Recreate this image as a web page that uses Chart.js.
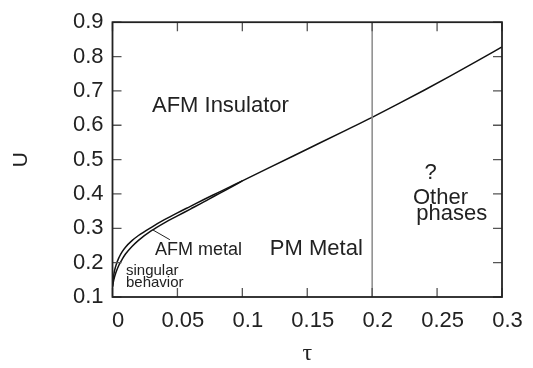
<!DOCTYPE html>
<html>
<head>
<meta charset="utf-8">
<script src="https://cdn.jsdelivr.net/npm/chart.js@4.4.1/dist/chart.umd.min.js"></script>
<style>
  html, body { margin: 0; padding: 0; background: #fff; }
  #wrap { width: 533px; height: 368px; }
</style>
</head>
<body>
<div id="wrap"><canvas id="c" width="533" height="368"></canvas></div>
<script>
// ---- data ----
const upperTau = [0, 0.001, 0.0025, 0.005, 0.0075, 0.01, 0.015, 0.02, 0.03, 0.04, 0.05, 0.06, 0.07, 0.08, 0.09, 0.1,
                  0.12, 0.14, 0.16, 0.18, 0.2, 0.22, 0.24, 0.26, 0.28, 0.3];
const upperU   = [0.13, 0.165, 0.19, 0.215, 0.232, 0.245, 0.264, 0.279, 0.303, 0.325, 0.345, 0.364, 0.383, 0.4015, 0.42, 0.438,
                  0.475, 0.512, 0.549, 0.586, 0.623, 0.662, 0.702, 0.743, 0.785, 0.828];
const lowerTau = [0, 0.001, 0.0025, 0.005, 0.0075, 0.01, 0.015, 0.02, 0.03, 0.04, 0.05, 0.06, 0.07, 0.08, 0.09, 0.1];
const lowerU   = [0.13, 0.15, 0.17, 0.193, 0.21, 0.225, 0.247, 0.265, 0.293, 0.316, 0.336, 0.356, 0.376, 0.397, 0.417, 0.438];
const boundaryTau = [0.2, 0.2];
const boundaryU   = [0.1, 0.9];

const xTickValues = [0, 0.05, 0.1, 0.15, 0.2, 0.25, 0.3];
const xTickLabels = ['0', '0.05', '0.1', '0.15', '0.2', '0.25', '0.3'];
const yTickValues = [0.1, 0.2, 0.3, 0.4, 0.5, 0.6, 0.7, 0.8, 0.9];
const yTickLabels = ['0.1', '0.2', '0.3', '0.4', '0.5', '0.6', '0.7', '0.8', '0.9'];

// region labels: [text, tau, U, fontSize]
const regionLabels = [
  ['AFM Insulator', 0.0304, 0.638, 22],
  ['AFM metal', 0.0327, 0.2235, 18],
  ['singular', 0.0104, 0.1636, 15],
  ['behavior', 0.0104, 0.1283, 15],
  ['PM Metal', 0.1212, 0.2216, 22],
  ['?', 0.2404, 0.4449, 22],
  ['Other', 0.2314, 0.3694, 22],
  ['phases', 0.234, 0.3233, 22]
];
const pointerTau = [0.0312, 0.0442];
const pointerU = [0.295, 0.2668];

const toPts = (xs, ys) => xs.map((x, i) => ({x: x, y: ys[i]}));

Chart.defaults.font.family = "'Liberation Sans', Arial, Helvetica, sans-serif";
Chart.defaults.color = '#222';

const framePlugin = {
  id: 'frame',
  afterDatasetsDraw(chart) {
    const ctx = chart.ctx;
    const a = chart.chartArea;
    const xs = chart.scales.x, ys = chart.scales.y;
    const L = 9;
    ctx.save();
    // inward ticks
    ctx.strokeStyle = '#555';
    ctx.lineWidth = 1.3;
    ctx.beginPath();
    xTickValues.forEach(v => {
      const px = xs.getPixelForValue(v);
      ctx.moveTo(px, a.bottom); ctx.lineTo(px, a.bottom - L);
      ctx.moveTo(px, a.top); ctx.lineTo(px, a.top + L);
    });
    yTickValues.forEach(v => {
      const py = ys.getPixelForValue(v);
      ctx.moveTo(a.left, py); ctx.lineTo(a.left + L, py);
      ctx.moveTo(a.right, py); ctx.lineTo(a.right - L, py);
    });
    ctx.stroke();
    // frame
    ctx.strokeStyle = '#222';
    ctx.lineWidth = 1.8;
    ctx.strokeRect(a.left, a.top, a.right - a.left, a.bottom - a.top);
    // pointer line
    ctx.strokeStyle = '#222';
    ctx.lineWidth = 1;
    ctx.beginPath();
    ctx.moveTo(xs.getPixelForValue(pointerTau[0]), ys.getPixelForValue(pointerU[0]));
    ctx.lineTo(xs.getPixelForValue(pointerTau[1]), ys.getPixelForValue(pointerU[1]));
    ctx.stroke();
    // labels
    ctx.fillStyle = '#222';
    ctx.textAlign = 'left';
    ctx.textBaseline = 'alphabetic';
    regionLabels.forEach(([t, x, y, s]) => {
      ctx.font = s + "px 'Liberation Sans', Arial, sans-serif";
      ctx.fillText(t, xs.getPixelForValue(x), ys.getPixelForValue(y));
    });
    ctx.restore();
  }
};

new Chart(document.getElementById('c'), {
  type: 'scatter',
  data: {
    datasets: [
      { data: toPts(boundaryTau, boundaryU), showLine: true, borderColor: '#8a8a8a', borderWidth: 1.5, pointRadius: 0 },
      { data: toPts(upperTau, upperU), showLine: true, borderColor: '#111', borderWidth: 1.5, pointRadius: 0, cubicInterpolationMode: 'monotone' },
      { data: toPts(lowerTau, lowerU), showLine: true, borderColor: '#111', borderWidth: 1.5, pointRadius: 0, cubicInterpolationMode: 'monotone' }
    ]
  },
  options: {
    responsive: false,
    animation: false,
    devicePixelRatio: 1,
    layout: { padding: { top: 14, right: 31, left: 0, bottom: 0 } },
    plugins: { legend: { display: false }, tooltip: { enabled: false } },
    scales: {
      x: {
        type: 'linear', min: 0, max: 0.3,
        afterBuildTicks: s => { s.ticks = xTickValues.map(v => ({value: v})); },
        afterFit: s => { s.height = 71; },
        ticks: {
          font: { size: 22 }, color: '#222', padding: 11, labelOffset: 5.5, maxRotation: 0,
          callback: (v, i) => xTickLabels[i]
        },
        grid: { display: false, drawTicks: false },
        border: { display: false },
        title: { display: true, text: 'τ', color: '#222', padding: 0,
                 font: { family: "'Liberation Serif', 'DejaVu Serif', serif", size: 24 } }
      },
      y: {
        type: 'linear', min: 0.1, max: 0.9,
        afterBuildTicks: s => { s.ticks = yTickValues.map(v => ({value: v})); },
        afterFit: s => { s.width = 112.5; },
        ticks: {
          font: { size: 22 }, color: '#222', padding: 9,
          callback: (v, i) => yTickLabels[i]
        },
        grid: { display: false, drawTicks: false },
        border: { display: false },
        title: { display: true, text: 'U', color: '#222', padding: { top: 9, bottom: 0 },
                 font: { size: 21 } }
      }
    }
  },
  plugins: [framePlugin]
});
</script>
</body>
</html>
